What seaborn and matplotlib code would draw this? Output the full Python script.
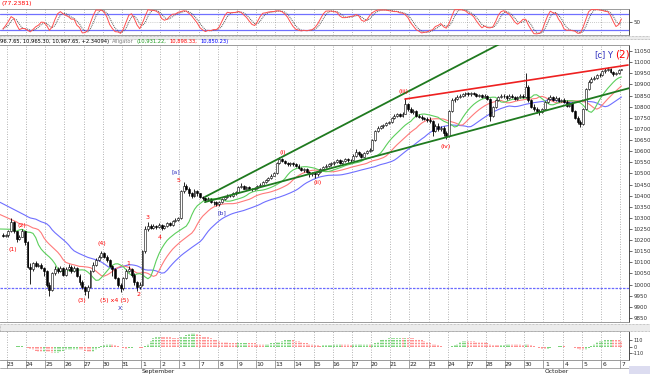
import numpy as np
import pandas as pd
import matplotlib
matplotlib.use("Agg")
import matplotlib.pyplot as plt
import matplotlib.transforms as mtransforms
from matplotlib.patches import Rectangle
import seaborn as sns

sns.set_theme(style="white")
plt.rcParams['font.family'] = ['DejaVu Sans']
NARROW = ['Liberation Sans Narrow', 'DejaVu Sans']

# ---------------- data ----------------
day_labels = ['23', '24', '25', '26', '27', '30', '31', '1', '2', '3', '7', '8', '9', '10',
              '13', '14', '15', '16', '17', '20', '21', '22', '23', '24', '27', '28', '29',
              '30', '1', '4', '5', '6', '7']
month_labels = ['September', 'October']
month_start_days = [7, 28]
bars_per_day = 7
pre_bars = 2

opens = [10225, 10219,
         10223, 10240, 10280, 10240, 10205, 10215, 10240,
         10190, 10080, 10070, 10095, 10085, 10090, 10075,
         10060, 10000, 9975, 10050, 10070, 10060, 10075,
         10045, 10070, 10080, 10060, 10075, 10040, 10010,
         9990, 9970, 9990, 10060, 10090, 10110, 10125,
         10140, 10125, 10110, 10085, 10070, 10030, 10000,
         9985, 10030, 10060, 10070, 10045, 10010, 9990,
         10000, 10150, 10250, 10265, 10255, 10265, 10260,
         10268, 10255, 10265, 10275, 10270, 10285, 10290,
         10300, 10420, 10445, 10430, 10410, 10400, 10420,
         10410, 10395, 10390, 10380, 10385, 10372, 10370,
         10362, 10370, 10385, 10392, 10400, 10398, 10410,
         10415, 10440, 10445, 10432, 10438, 10430, 10428,
         10435, 10445, 10450, 10460, 10470, 10478, 10490,
         10500, 10545, 10565, 10555, 10548, 10540, 10545,
         10540, 10535, 10525, 10515, 10520, 10505, 10495,
         10500, 10495, 10505, 10520, 10530, 10535, 10540,
         10545, 10550, 10560, 10548, 10555, 10565, 10558,
         10562, 10580, 10595, 10585, 10575, 10590, 10600,
         10605, 10650, 10690, 10705, 10712, 10718, 10725,
         10730, 10750, 10758, 10765, 10760, 10768, 10810,
         10790, 10775, 10780, 10760, 10755, 10748, 10745,
         10740, 10735, 10690, 10715, 10700, 10705, 10680,
         10670, 10780, 10830, 10835, 10845, 10850, 10855,
         10860, 10855, 10862, 10858, 10848, 10852, 10845,
         10850, 10835, 10760, 10800, 10830, 10845, 10850,
         10848, 10840, 10850, 10845, 10835, 10842, 10850,
         10845, 10890, 10830, 10800, 10790, 10780, 10775,
         10790, 10820, 10835, 10845, 10830, 10840, 10825,
         10830, 10820, 10805, 10815, 10780, 10750, 10730,
         10722, 10790, 10880, 10910, 10925, 10930, 10940,
         10944, 10960, 10965, 10970, 10955, 10945, 10950,
         10965.30]

highs = [10232, 10228,
         10245, 10300, 10285, 10242, 10222, 10252, 10242,
         10195, 10095, 10100, 10105, 10098, 10095, 10080,
         10065, 10010, 10055, 10082, 10078, 10085, 10080,
         10078, 10092, 10088, 10082, 10080, 10048, 10020,
         9995, 10000, 10065, 10100, 10118, 10135, 10150,
         10148, 10135, 10115, 10090, 10075, 10035, 10008,
         10035, 10068, 10082, 10075, 10050, 10015, 10010,
         10155, 10262, 10280, 10272, 10272, 10270, 10275,
         10272, 10270, 10282, 10280, 10290, 10298, 10306,
         10425, 10460, 10452, 10438, 10418, 10428, 10425,
         10412, 10400, 10395, 10392, 10388, 10378, 10375,
         10375, 10390, 10398, 10408, 10405, 10415, 10420,
         10445, 10458, 10450, 10442, 10442, 10436, 10440,
         10450, 10458, 10466, 10476, 10485, 10495, 10506,
         10550, 10575, 10570, 10560, 10552, 10552, 10550,
         10545, 10540, 10530, 10525, 10524, 10510, 10505,
         10505, 10510, 10525, 10535, 10540, 10545, 10550,
         10556, 10566, 10564, 10560, 10570, 10568, 10566,
         10585, 10610, 10600, 10590, 10595, 10606, 10612,
         10655, 10695, 10712, 10718, 10724, 10730, 10736,
         10755, 10765, 10772, 10770, 10775, 10838, 10815,
         10800, 10790, 10785, 10765, 10762, 10755, 10752,
         10752, 10740, 10722, 10725, 10715, 10712, 10690,
         10785, 10838, 10842, 10852, 10856, 10862, 10866,
         10866, 10868, 10866, 10862, 10858, 10856, 10855,
         10852, 10838, 10805, 10835, 10850, 10858, 10856,
         10852, 10856, 10855, 10850, 10848, 10858, 10855,
         10950, 10895, 10835, 10810, 10800, 10790, 10795,
         10825, 10845, 10852, 10850, 10846, 10845, 10836,
         10838, 10828, 10822, 10820, 10785, 10756, 10738,
         10795, 10885, 10918, 10932, 10938, 10945, 10950,
         10965, 10972, 10976, 10974, 10960, 10955, 10968,
         10967.65]

lows = [10215, 10214,
        10215, 10235, 10232, 10192, 10200, 10212, 10180,
        10075, 10005, 10062, 10078, 10080, 10068, 10040,
        9990, 9950, 9970, 10045, 10052, 10055, 10040,
        10040, 10062, 10052, 10055, 10035, 10000, 9982,
        9955, 9942, 9985, 10055, 10085, 10105, 10118,
        10118, 10100, 10078, 10040, 10025, 9990, 9968,
        9975, 10025, 10055, 10035, 10000, 9972, 9980,
        9995, 10140, 10240, 10248, 10250, 10252, 10255,
        10245, 10250, 10260, 10262, 10265, 10280, 10285,
        10295, 10410, 10425, 10400, 10390, 10395, 10400,
        10390, 10382, 10372, 10375, 10365, 10360, 10352,
        10355, 10365, 10380, 10388, 10392, 10395, 10405,
        10412, 10435, 10428, 10428, 10425, 10420, 10425,
        10430, 10440, 10446, 10455, 10465, 10475, 10486,
        10498, 10540, 10550, 10542, 10535, 10535, 10532,
        10528, 10520, 10510, 10508, 10500, 10485, 10490,
        10478, 10490, 10500, 10515, 10525, 10530, 10535,
        10538, 10545, 10542, 10544, 10550, 10552, 10553,
        10558, 10575, 10580, 10568, 10572, 10585, 10595,
        10600, 10645, 10685, 10700, 10706, 10712, 10720,
        10728, 10745, 10752, 10752, 10755, 10765, 10780,
        10770, 10768, 10755, 10748, 10742, 10738, 10732,
        10725, 10670, 10685, 10692, 10690, 10668, 10655,
        10665, 10775, 10822, 10828, 10838, 10844, 10848,
        10848, 10850, 10852, 10842, 10842, 10838, 10840,
        10828, 10735, 10755, 10795, 10825, 10840, 10840,
        10832, 10836, 10838, 10828, 10830, 10838, 10838,
        10840, 10820, 10792, 10780, 10770, 10762, 10770,
        10785, 10815, 10828, 10825, 10826, 10820, 10820,
        10815, 10800, 10800, 10775, 10745, 10720, 10710,
        10718, 10785, 10875, 10905, 10920, 10925, 10935,
        10938, 10952, 10960, 10950, 10938, 10940, 10946,
        10965.30]

closes = [10219, 10223,
          10240, 10280, 10240, 10205, 10215, 10240, 10190,
          10080, 10070, 10095, 10085, 10090, 10075, 10060,
          10000, 9975, 10050, 10070, 10060, 10075, 10045,
          10070, 10080, 10060, 10075, 10040, 10010, 9990,
          9970, 9990, 10060, 10090, 10110, 10125, 10140,
          10125, 10110, 10085, 10070, 10030, 10000, 9985,
          10030, 10060, 10070, 10045, 10010, 9990, 10000,
          10150, 10250, 10265, 10255, 10265, 10260, 10268,
          10255, 10265, 10275, 10270, 10285, 10290, 10300,
          10420, 10445, 10430, 10410, 10400, 10420, 10410,
          10395, 10390, 10380, 10385, 10372, 10370, 10362,
          10370, 10385, 10392, 10400, 10398, 10410, 10415,
          10440, 10445, 10432, 10438, 10430, 10428, 10435,
          10445, 10450, 10460, 10470, 10478, 10490, 10500,
          10545, 10565, 10555, 10548, 10540, 10545, 10540,
          10535, 10525, 10515, 10520, 10505, 10495, 10500,
          10495, 10505, 10520, 10530, 10535, 10540, 10545,
          10550, 10560, 10548, 10555, 10565, 10558, 10562,
          10580, 10595, 10585, 10575, 10590, 10600, 10605,
          10650, 10690, 10705, 10712, 10718, 10725, 10730,
          10750, 10758, 10765, 10760, 10768, 10810, 10790,
          10775, 10780, 10760, 10755, 10748, 10745, 10740,
          10735, 10690, 10715, 10700, 10705, 10680, 10670,
          10780, 10830, 10835, 10845, 10850, 10855, 10860,
          10855, 10862, 10858, 10848, 10852, 10845, 10850,
          10835, 10760, 10800, 10830, 10845, 10850, 10848,
          10840, 10850, 10845, 10835, 10842, 10850, 10845,
          10890, 10830, 10800, 10790, 10780, 10775, 10790,
          10820, 10835, 10845, 10830, 10840, 10825, 10830,
          10820, 10805, 10815, 10780, 10750, 10730, 10722,
          10790, 10880, 10910, 10925, 10930, 10940, 10944,
          10960, 10965, 10970, 10955, 10945, 10950, 10965,
          10967.65]

# Alligator: (period, shift, seed before first bar, value at left chart edge)
alligator_periods = [13, 8, 5]
alligator_shifts = [8, 5, 3]
alligator_seeds = [10320, 10290, 10255]
alligator_edge = [10370, 10315, 10250]
alligator_colors = ['#6f6fff', '#ff7a7a', '#5ccf5c']

# Trend lines (bar index, price)
green_upper_x = [73.8, 188.9]
green_upper_y = [10394, 11129]
green_lower_x = [73.8, 229.1]
green_lower_y = [10371, 10884]
red_line_x = [146.9, 228.4]
red_line_y = [10834, 10987]
support_level = 9985

# wave labels: text, bar index, price, colour, size
wave_labels = [
    ('(1)', 3.7, 10156, 'red', 4.5), ('(2)', 7.0, 10266, 'red', 4.5),
    ('(3)', 28.9, 9928, 'red', 4.5), ('(4)', 36.2, 10187, 'red', 4.5),
    ('(5) x4 (5)', 40.8, 9928, 'red', 4.5), ('X', 42.8, 9893, '#3030c0', 4.5),
    ('1', 45.7, 10097, 'red', 4.5), ('2', 49.7, 9956, 'red', 4.5),
    ('3', 53.0, 10300, 'red', 4.5), ('4', 57.4, 10214, 'red', 4.5),
    ('5', 64.0, 10470, 'red', 4.5), ('[a]', 63.2, 10505, '#3030c0', 4.5),
    ('[b]', 80.1, 10322, '#3030c0', 4.5),
    ('(i)', 102.3, 10596, 'red', 4.5), ('(ii)', 115.1, 10457, 'red', 4.5),
    ('(iii)', 146.2, 10866, 'red', 4.5), ('(iv)', 161.9, 10619, 'red', 4.5),
    ('[c]', 218.2, 11032, '#3030c0', 6), ('Y', 221.8, 11032, '#3030c0', 6),
    ('(2)', 226.2, 11034, 'red', 7.5),
]

# oscillator settings
stoch_period = 5
stoch_smooth = 3

# ---------------- frame ----------------
df = pd.DataFrame({'open': opens, 'high': highs, 'low': lows, 'close': closes})
n = len(df)
df['x'] = np.arange(n)
W, H = 650, 374
XL = (-1.06, 228.75)

fig = plt.figure(figsize=(6.5, 3.74), dpi=100)
fig.patch.set_facecolor('white')

def fy(px):
    return 1 - px / H

ax_o = fig.add_axes([0, fy(35.3), 629 / W, 26.6 / H])
ax_m = fig.add_axes([0, fy(322), 629 / W, 277 / H])
ax_h = fig.add_axes([0, fy(360), 629 / W, 29 / H])

day_starts = [pre_bars + bars_per_day * d - 0.5 for d in range(len(day_labels))]
grid_kw = dict(color='#9a9a9a', lw=0.6, linestyle=(0, (1, 2)), zorder=0)
for ax in (ax_o, ax_m, ax_h):
    ax.set_xlim(*XL)
    ax.set_facecolor('white')
    for xs in day_starts:
        ax.axvline(xs, **grid_kw)
    ax.set_xticks([])
    ax.spines['left'].set_visible(False)
    for s in ('top', 'bottom'):
        ax.spines[s].set_color('#8a8a8a')
        ax.spines[s].set_linewidth(0.6)
    ax.spines['right'].set_color('#303030')
    ax.spines['right'].set_linewidth(0.6)
    ax.yaxis.tick_right()
    ax.tick_params(axis='y', labelsize=4, length=2, pad=1, colors='#303030', width=0.5)
    ax.grid(False)

# ---------------- main price panel ----------------
ax_m.set_ylim(9832, 11077)
ax_m.set_yticks(np.arange(9850, 11051, 50))
ax_m.set_yticklabels([str(v) for v in np.arange(9850, 11051, 50)], family=NARROW)

x = df['x'].values
o, h, l, c = (df[k].values for k in ('open', 'high', 'low', 'close'))
ax_m.vlines(x, np.minimum(l, np.minimum(o, c)), np.maximum(h, np.maximum(o, c)),
            color='black', lw=0.6, zorder=3)
up = c >= o
body = np.maximum(np.abs(c - o), 1.5)
ax_m.bar(x[up], body[up], bottom=np.minimum(o, c)[up], width=0.7,
         color='white', edgecolor='black', linewidth=0.4, zorder=4)
ax_m.bar(x[~up], body[~up], bottom=np.minimum(o, c)[~up], width=0.7,
         color='black', edgecolor='black', linewidth=0.4, zorder=4)

med = (df['high'] + df['low']).values / 2
for period, shift, seed, edge, col in zip(alligator_periods, alligator_shifts,
                                           alligator_seeds, alligator_edge, alligator_colors):
    s = seed
    vals = []
    for v in med:
        s = (s * (period - 1) + v) / period
        vals.append(s)
    xs = x + shift
    keep = xs <= x[-1]
    line_df = pd.DataFrame({'x': np.concatenate([[XL[0]], xs[keep]]),
                            'y': np.concatenate([[edge], np.array(vals)[keep]])})
    sns.lineplot(data=line_df, x='x', y='y', ax=ax_m, color=col, lw=0.8,
                 estimator=None, sort=False, zorder=2)

ax_m.axhline(support_level, color='#6a6aff', lw=0.9, linestyle=(0, (2, 1)), zorder=1)
sns.lineplot(x=green_upper_x, y=green_upper_y, ax=ax_m, color='#1f7a1f', lw=1.3, zorder=5)
sns.lineplot(x=green_lower_x, y=green_lower_y, ax=ax_m, color='#1f7a1f', lw=1.3, zorder=5)
sns.lineplot(x=red_line_x, y=red_line_y, ax=ax_m, color='#ee2020', lw=1.2, zorder=5)
ax_m.set_xlim(*XL)
ax_m.set_ylim(9832, 11077)
ax_m.set_xlabel('')
ax_m.set_ylabel('')

for txt, bx, py, col, fs in wave_labels:
    ax_m.text(bx, py, txt, color=col, fontsize=fs, ha='center', va='center',
              zorder=6, family=NARROW)

# ---------------- oscillator (stochastic) ----------------
lo_n = df['low'].rolling(stoch_period, min_periods=1).min()
hi_n = df['high'].rolling(stoch_period, min_periods=1).max()
raw_k = 100 * (df['close'] - lo_n) / (hi_n - lo_n).replace(0, np.nan)
k_line = raw_k.rolling(stoch_smooth, min_periods=1).mean()
d_line = k_line.rolling(stoch_smooth, min_periods=1).mean()
ax_o.set_ylim(0, 100)
ax_o.axhline(80, color='#7070ff', lw=0.9, zorder=1)
ax_o.axhline(20, color='#7070ff', lw=0.9, zorder=1)
ax_o.axhline(50, color='#9a9a9a', lw=0.5, linestyle=(0, (1, 2)), zorder=1)
sns.lineplot(x=x, y=d_line.values, ax=ax_o, color='#505050', lw=0.7,
             linestyle=(0, (1, 1)), zorder=2)
sns.lineplot(x=x, y=k_line.values, ax=ax_o, color='#ff5050', lw=0.7, zorder=3)
ax_o.set_xlim(*XL)
ax_o.set_ylim(0, 100)
ax_o.set_yticks([50])
ax_o.set_yticklabels(['50'], family=NARROW)
ax_o.set_xlabel('')
ax_o.set_ylabel('')

# ---------------- histogram (awesome oscillator) ----------------
ao = (pd.Series(med).rolling(5, min_periods=1).mean()
      - pd.Series(med).rolling(34, min_periods=1).mean()).values
rising = np.concatenate([[True], ao[1:] >= ao[:-1]])
m = np.nanmax(np.abs(ao))
ax_h.set_ylim(-m * 1.0, m * 1.15)
ax_h.vlines(x[rising], 0, ao[rising], color='#55c855', lw=1.1, linestyle=(0, (1, 0.8)))
ax_h.vlines(x[~rising], 0, ao[~rising], color='#ff7070', lw=1.1, linestyle=(0, (1, 0.8)))
half = int(round(m / 2 / 10.0) * 10)
hticks = [-half, 0, half]
ax_h.set_yticks(hticks)
ax_h.set_yticklabels([str(t) for t in hticks], family=NARROW)
ax_h.tick_params(axis='y', labelsize=3.5)

# x axis strip labels
tr = mtransforms.blended_transform_factory(ax_h.transData, ax_h.transAxes)
for d, lab in enumerate(day_labels):
    xs = day_starts[d]
    ax_h.plot([xs, xs], [-0.26, 0], transform=tr, color='#7a7a7a', lw=0.5, clip_on=False)
    ax_h.text(xs + 1.3, -0.14, lab, transform=tr, fontsize=4.3, ha='center', va='center',
              color='#202020', family=NARROW, clip_on=False)
ax_h.plot([XL[0], XL[1]], [-0.26, -0.26], transform=tr, color='#8a8a8a', lw=0.5, clip_on=False)
for md, lab in zip(month_start_days, month_labels):
    ax_h.text(day_starts[md] + 0.3, -0.38, lab, transform=tr, fontsize=4.3, ha='left',
              va='center', color='#202020', family=NARROW, clip_on=False)

# ---------------- chrome and header ----------------
for ytop, yb in ((36.5, 38.5), (323.5, 330.5)):
    fig.add_artist(Rectangle((0, fy(yb)), 1, (yb - ytop) / H, transform=fig.transFigure,
                             facecolor='#ececec', edgecolor='#9a9a9a', lw=0.5,
                             linestyle=(0, (1, 1))))
fig.add_artist(Rectangle((629 / W, 0), 21 / W, 8 / H, transform=fig.transFigure,
                         facecolor='#dcdcf0', edgecolor='none'))

fig.text(2 / W, fy(3.5), '(77.2381)', color='red', fontsize=4.5, ha='left', va='center',
         family=NARROW)
header_parts = [('96.7.65, 10,965.30, 10,967.65, +2.34094)', 'black'),
                ('Alligator', '#808080'),
                ('(10,931.22,', '#1a9a1a'),
                ('10,898.33,', 'red'),
                ('10,850.23)', 'blue')]
renderer = fig.canvas.get_renderer()
xpos = 0.0
for txt, col in header_parts:
    t = fig.text(xpos / W, fy(41.5), txt, color=col, fontsize=3.7, ha='left', va='center',
                 family=NARROW)
    bb = t.get_window_extent(renderer=renderer)
    xpos = bb.x1 + 3

fig.savefig('out.png', dpi=100, facecolor='white')
